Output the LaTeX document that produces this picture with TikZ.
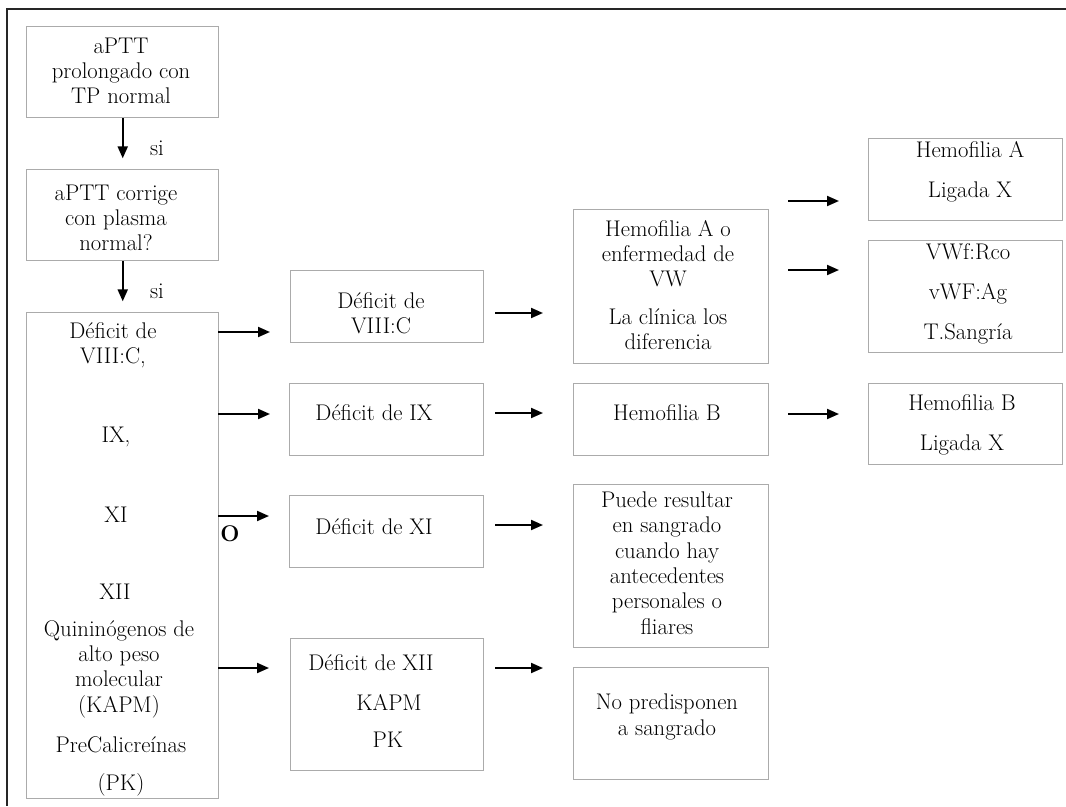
\documentclass[tikz,border=0pt]{standalone}
\usetikzlibrary{arrows.meta}
\newcommand{\bx}[5]{\node[box, anchor=north west, minimum width={(#4-#2)*0.75pt}, minimum height={(#5-#3)*0.75pt}] (#1) at (#2,#3) {};}
\begin{document}
\begin{tikzpicture}[x=0.75pt, y=-0.75pt,
  box/.style={draw=black!33, line width=1.1pt, inner sep=0pt, fill=none},
  txt/.style={align=center, inner sep=0pt, font=\fontsize{17}{19}\selectfont},
  arr/.style={line width=1.5pt, -{Triangle[length=9pt, width=7.5pt]}}]
\useasboundingbox (0,0) rectangle (1066,806);
% frame
\coordinate (fa) at (1066,9);
\coordinate (fb) at (7,9);
\coordinate (fc) at (7,806);
\draw[line width=1.1pt, black!85] (fa) -- (fb) -- (fc);

% boxes
\bx{b1}{26}{26}{218}{117}
\bx{b2}{26}{169}{218}{260}
\bx{b3}{26}{312}{218}{798}
\bx{m1}{290}{270}{483}{342}
\bx{m2}{289}{383}{483}{455}
\bx{m3}{289}{495}{483}{567}
\bx{m4}{290}{638}{483}{770}
\bx{n1}{573}{209}{768}{363}
\bx{n2}{573}{383}{768}{455}
\bx{n3}{573}{484}{768}{647}
\bx{n4}{573}{667}{768}{779}
\bx{r1}{868}{138}{1062}{220}
\bx{r2}{868}{240}{1062}{352}
\bx{r3}{868}{383}{1062}{464}

% texts
\node[txt] (tb1) at (121,71) {aPTT\\prolongado con\\TP normal};
\node[txt] (tb2) at (116,218) {aPTT corrige\\con plasma\\normal?};
\node[txt] (tb3a) at (113,345) {D\'eficit de\\VIII:C,};
\node[txt] (tb3b) at (116,437) {IX,};
\node[txt] (tb3c) at (116,515) {XI};
\node[txt] (tb3d) at (115,592) {XII};
\node[txt] (tb3e) at (119,669) {Quinin\'ogenos de\\alto peso\\molecular\\(KAPM)};
\node[txt] (tb3f) at (121,745) {PreCalicre\'inas};
\node[txt] (tb3g) at (121,785) {(PK)};

\node[txt] (tm1) at (381,313) {D\'eficit de\\VIII:C};
\node[txt] (tm2) at (374,413) {D\'eficit de IX};
\node[txt] (tm3) at (374,527) {D\'eficit de XI};
\node[txt] (tm4a) at (371,663) {D\'eficit de XII};
\node[txt] (tm4b) at (389,702) {KAPM};
\node[txt] (tm4c) at (388,740) {PK};

\node[txt] (tn1) at (668,285) {Hemofilia A o\\enfermedad de\\VW\\[9pt]La cl\'inica los\\diferencia};
\node[txt] (tn2) at (667,413) {Hemofilia B};
\node[txt] (tn3) at (667,563) {Puede resultar\\en sangrado\\cuando hay\\antecedentes\\personales o\\fliares};
\node[txt] (tn4) at (667,717) {No predisponen\\a sangrado};

\node[txt] (tr1) at (970,172) {Hemofilia A\\[11pt]Ligada X};
\node[txt] (tr2) at (968,294) {VWf:Rco\\[11pt]vWF:Ag\\[11pt]T.Sangr\'ia};
\node[txt] (tr3) at (962,425) {Hemofilia B\\[11pt]Ligada X};

% labels
\node[txt] (si1) at (157,148) {si};
\node[txt] (si2) at (157,291) {si};
\node[txt] (lo) at (230,534) {\textbf{O}};

% vertical arrows
\draw[arr, shorten >=8pt] (b1) -- (b2);
\draw[arr, shorten >=8pt] (b2) -- (b3);

% horizontal arrow coordinates
\coordinate (h1s) at (218,332); \coordinate (h1e) at (270,332);
\coordinate (h2s) at (218,414); \coordinate (h2e) at (270,414);
\coordinate (h3s) at (218,516); \coordinate (h3e) at (269,516);
\coordinate (h4s) at (218,668); \coordinate (h4e) at (269,668);
\coordinate (k1s) at (495,313); \coordinate (k1e) at (543,313);
\coordinate (k2s) at (495,413); \coordinate (k2e) at (543,413);
\coordinate (k3s) at (495,525); \coordinate (k3e) at (543,525);
\coordinate (k4s) at (495,668); \coordinate (k4e) at (543,668);
\coordinate (q1s) at (788,201); \coordinate (q1e) at (839,201);
\coordinate (q2s) at (788,270); \coordinate (q2e) at (839,270);
\coordinate (q3s) at (788,414); \coordinate (q3e) at (839,414);
\foreach \a in {h1,h2,h3,h4,k1,k2,k3,k4,q1,q2,q3}
  \draw[arr] (\a s) -- (\a e);
\end{tikzpicture}
\end{document}
